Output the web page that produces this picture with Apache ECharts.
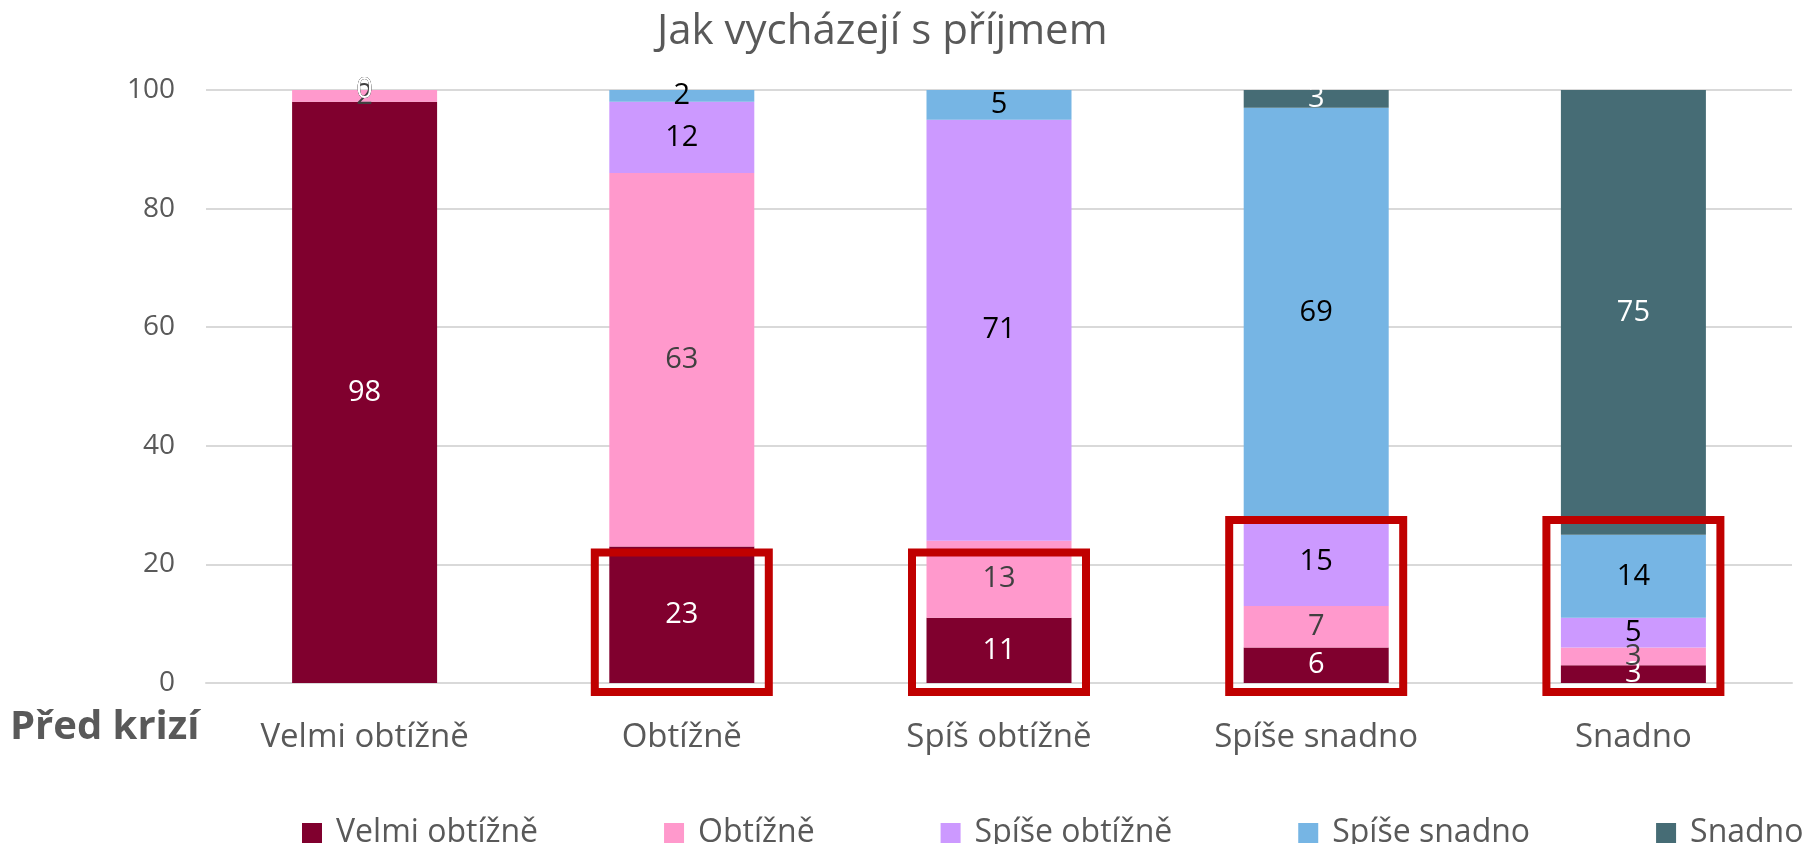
<!DOCTYPE html>
<html>
<head>
<meta charset="utf-8">
<script src="https://cdn.jsdelivr.net/npm/echarts@6/dist/echarts.min.js"></script>
<style>
  html, body { margin: 0; padding: 0; background: #fff; }
  #main { width: 1819px; height: 844px; }
</style>
</head>
<body>
<div id="main"></div>
<script>
const categories = ['Velmi obtížně', 'Obtížně', 'Spíš obtížně', 'Spíše snadno', 'Snadno'];
const seriesNames = ['Velmi obtížně', 'Obtížně', 'Spíše obtížně', 'Spíše snadno', 'Snadno'];

const velmiObtizne = [98, 23, 11, 6, 3];
const obtizne = [2, 63, 13, 7, 3];
const spiseObtizne = [0, 12, 71, 15, 5];
const spiseSnadno = [0, 2, 5, 69, 14];
const snadno = [0, null, null, 3, 75];

const yTicks = [0, 20, 40, 60, 80, 100];

// highlighted bottom part of bars (value where the red box ends), null = no box
const highlightTop = [null, 22, 22, 27.5, 27.5];

const colors = ['#80002E', '#FF99CC', '#CC99FF', '#76B5E4', '#466C75'];
const labelColors = ['#ffffff', '#404040', '#000000', '#000000', '#ffffff'];
const font = 'Open Sans';

const myChart = echarts.init(document.getElementById('main'));

const values = [velmiObtizne, obtizne, spiseObtizne, spiseSnadno, snadno];

const series = values.map((data, i) => ({
  name: seriesNames[i],
  type: 'bar',
  stack: 'total',
  barWidth: 145,
  data: data,
  itemStyle: { color: colors[i] },
  label: {
    show: true,
    position: 'inside',
    color: labelColors[i],
    fontFamily: font,
    fontSize: 29
  },
  emphasis: { disabled: true }
}));

myChart.setOption({
  animation: false,
  color: colors,
  title: {
    text: 'Jak vycházejí s příjmem',
    left: 652,
    top: 6,
    textStyle: {
      fontFamily: font,
      fontWeight: 'normal',
      fontSize: 42,
      color: '#595959'
    }
  },
  legend: {
    data: seriesNames,
    left: 297,
    top: 812,
    itemWidth: 20,
    itemHeight: 20,
    itemGap: 126,
    icon: 'rect',
    textStyle: {
      fontFamily: font,
      fontSize: 32,
      color: '#595959',
      padding: [0, 0, 0, 9]
    }
  },
  grid: {
    left: 206,
    right: 27,
    top: 90,
    bottom: 161
  },
  xAxis: {
    type: 'category',
    data: categories,
    axisTick: { show: false },
    axisLine: { lineStyle: { color: '#D9D9D9', width: 2 } },
    axisLabel: {
      margin: 38,
      fontFamily: font,
      fontSize: 33,
      color: '#595959'
    }
  },
  yAxis: {
    type: 'value',
    min: yTicks[0],
    max: yTicks[yTicks.length - 1],
    interval: yTicks[1] - yTicks[0],
    axisLine: { show: false },
    axisTick: { show: false },
    splitLine: { lineStyle: { color: '#D9D9D9', width: 2 } },
    axisLabel: {
      margin: 31,
      fontFamily: font,
      fontSize: 28,
      color: '#595959'
    }
  },
  series: series,
  graphic: [{
    id: 'pred',
    type: 'text',
    left: 10,
    top: 708,
    style: {
      text: 'Před krizí',
      fontFamily: font,
      fontWeight: 'bold',
      fontSize: 40,
      fill: '#595959'
    }
  }]
});

// red boxes around the bottom of the bars
const boxWidth = 174;
const boxes = [];
highlightTop.forEach((top, i) => {
  if (top == null) return;
  const p1 = myChart.convertToPixel({ gridIndex: 0 }, [i, top]);
  const p0 = myChart.convertToPixel({ gridIndex: 0 }, [i, 0]);
  boxes.push({
    id: 'box' + i,
    type: 'rect',
    z: 100,
    shape: { x: p1[0] - boxWidth / 2, y: p1[1], width: boxWidth, height: p0[1] + 9 - p1[1] },
    style: { fill: 'none', stroke: '#C00000', lineWidth: 8 }
  });
});
myChart.setOption({ graphic: boxes });
</script>
</body>
</html>
